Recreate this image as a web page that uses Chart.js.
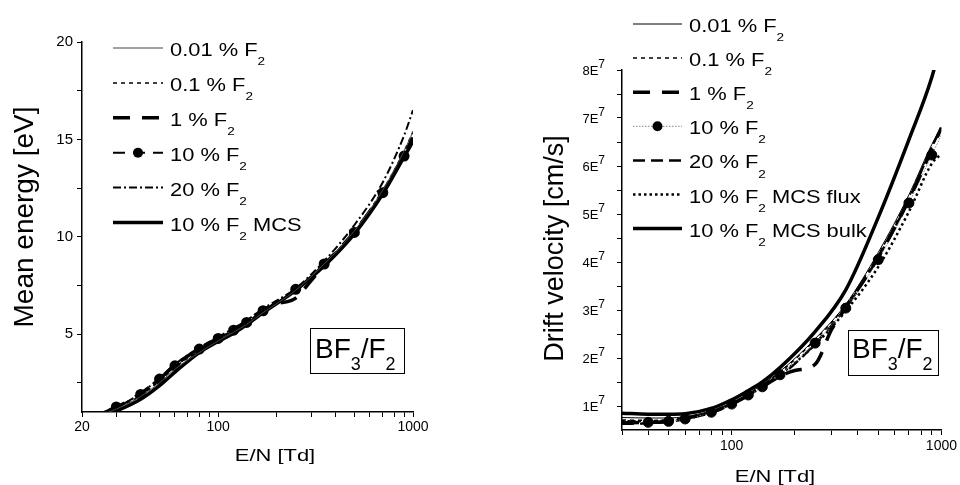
<!DOCTYPE html>
<html>
<head>
<meta charset="utf-8">
<script src="https://cdn.jsdelivr.net/npm/chart.js@4.4.0/dist/chart.umd.min.js"></script>
<style>
  html, body { margin: 0; padding: 0; background: #fff; }
  .wrap { display: flex; width: 960px; height: 485px; }
  canvas { display: block; }
</style>
</head>
<body>
<div class="wrap">
  <canvas id="energyChart" width="480" height="485"></canvas>
  <canvas id="driftChart" width="480" height="485"></canvas>
</div>
<script>
// ---- left panel: mean energy [eV] vs E/N [Td] ----
const energyEN = [20, 30, 40, 50, 60, 80, 100, 120, 140, 170, 250, 350, 500, 700, 900, 1000];
const energy001 = [0.5, 1.15, 1.8, 2.5, 3.2, 4.05, 4.65, 5.1, 5.5, 6.1, 7.25, 8.6, 10.3, 12.4, 14.4, 15.4];
const energy01 = [0.55, 1.2, 1.85, 2.6, 3.3, 4.15, 4.75, 5.2, 5.6, 6.15, 7.25, 8.6, 10.3, 12.4, 14.4, 15.4];
const energy1EN = [20, 30, 40, 50, 60, 80, 100, 120, 140, 170, 200, 250, 300, 350, 500, 700, 900, 1000];
const energy1 = [0.6, 1.25, 1.95, 2.7, 3.4, 4.25, 4.8, 5.25, 5.65, 6.25, 6.55, 6.85, 7.75, 8.55, 10.25, 12.3, 14.2, 15.1];
const energy10 = [0.6, 1.26, 1.9, 2.69, 3.37, 4.23, 4.78, 5.2, 5.6, 6.2, 7.3, 8.6, 10.22, 12.26, 14.14, 15.0];
const energy20 = [0.6, 1.25, 1.95, 2.75, 3.45, 4.3, 4.85, 5.3, 5.7, 6.3, 7.35, 8.75, 10.6, 12.8, 15.2, 16.5];
const energyMCS = [0.45, 1.05, 1.65, 2.35, 3.05, 4.05, 4.62, 5.05, 5.48, 6.1, 7.25, 8.5, 10.15, 12.2, 14.1, 14.9];
const energyXTicks = [20, 30, 40, 50, 60, 70, 80, 90, 100, 200, 300, 400, 500, 600, 700, 800, 900, 1000];
const energyXLabels = [20, 100, 1000];
const energyYTicks = [2.5, 5, 7.5, 10, 12.5, 15, 17.5, 20];
const energyYLabels = [5, 10, 15, 20];

// ---- right panel: drift velocity [cm/s] vs E/N [Td] ----
const driftEN = [30, 40, 50, 60, 80, 100, 120, 140, 170, 250, 350, 500, 700, 900, 1000];
const drift001 = [7.6e6, 7.5e6, 7.5e6, 7.8e6, 9.0e6, 1.07e7, 1.26e7, 1.45e7, 1.72e7, 2.40e7, 3.12e7, 4.20e7, 5.40e7, 6.45e7, 6.80e7];
const drift01 = [7.1e6, 7.0e6, 7.1e6, 7.6e6, 8.8e6, 1.05e7, 1.24e7, 1.43e7, 1.70e7, 2.38e7, 3.10e7, 4.15e7, 5.35e7, 6.40e7, 6.75e7];
const drift1EN = [30, 40, 50, 60, 80, 100, 120, 140, 170, 200, 250, 300, 350, 500, 700, 900, 1000];
const drift1 = [6.5e6, 6.6e6, 6.8e6, 7.4e6, 8.7e6, 1.04e7, 1.22e7, 1.40e7, 1.62e7, 1.74e7, 1.87e7, 2.6e7, 3.05e7, 4.10e7, 5.30e7, 6.35e7, 6.80e7];
const drift10 = [6.6e6, 6.6e6, 6.8e6, 7.3e6, 8.7e6, 1.04e7, 1.23e7, 1.40e7, 1.65e7, 2.31e7, 3.04e7, 4.05e7, 5.23e7, 6.23e7, 6.65e7];
const drift20 = [6.3e6, 6.4e6, 6.7e6, 7.3e6, 8.6e6, 1.03e7, 1.22e7, 1.40e7, 1.62e7, 2.30e7, 3.05e7, 4.10e7, 5.30e7, 6.40e7, 6.80e7];
const driftFlux = [6.8e6, 6.8e6, 7.0e6, 7.5e6, 8.8e6, 1.04e7, 1.22e7, 1.40e7, 1.65e7, 2.28e7, 2.98e7, 3.90e7, 5.05e7, 6.05e7, 6.25e7];
const driftBulk = [8.5e6, 8.3e6, 8.3e6, 8.4e6, 9.5e6, 1.13e7, 1.32e7, 1.50e7, 1.80e7, 2.55e7, 3.42e7, 4.93e7, 6.55e7, 7.85e7, 8.6e7];
const driftXTicks = [30, 40, 50, 60, 70, 80, 90, 100, 200, 300, 400, 500, 600, 700, 800, 900, 1000];
const driftXLabels = [100, 1000];
const driftYTicks = [1e7, 1.5e7, 2e7, 2.5e7, 3e7, 3.5e7, 4e7, 4.5e7, 5e7, 5.5e7, 6e7, 6.5e7, 7e7, 7.5e7, 8e7];
const driftYLabelValues = [1e7, 2e7, 3e7, 4e7, 5e7, 6e7, 7e7, 8e7];
const driftYLabels = ['1E⁷', '2E⁷', '3E⁷', '4E⁷', '5E⁷', '6E⁷', '7E⁷', '8E⁷'];

const FONT = '"Liberation Sans", Arial, sans-serif';
const SUB = { '₂': '2', '₃': '3' };
const SUP = { '⁷': '7' };

// text with sub/superscripts drawn as real smaller digits
function drawRich(ctx, str, x, y, f, align) {
  const parts = [];
  for (const ch of str) {
    const kind = SUB[ch] ? 'sub' : SUP[ch] ? 'sup' : 'n';
    const t = SUB[ch] || SUP[ch] || ch;
    const last = parts[parts.length - 1];
    if (last && last.kind === kind) last.t += t; else parts.push({ t, kind });
  }
  const sizeOf = k => k === 'sub' ? f.size * (f.sub || 0.62) : k === 'sup' ? f.size * (f.sup || 0.62) : f.size;
  let w = 0;
  parts.forEach(p => { ctx.font = `${sizeOf(p.kind)}px ${FONT}`; p.w = ctx.measureText(p.t).width; w += p.w; });
  ctx.save();
  ctx.translate(x, y);
  if (f.rot) ctx.rotate(f.rot);
  ctx.scale(f.sx || 1, 1);
  ctx.textAlign = 'left';
  ctx.textBaseline = 'alphabetic';
  let cx = align === 'center' ? -w / 2 : align === 'right' ? -w : 0;
  parts.forEach(p => {
    ctx.font = `${sizeOf(p.kind)}px ${FONT}`;
    const dy = p.kind === 'sub' ? f.size * (f.subDy || 0.5) : p.kind === 'sup' ? f.size * (f.supDy || -0.45) : 0;
    ctx.fillText(p.t, cx, dy);
    cx += p.w;
  });
  ctx.restore();
}

const decor = {
  id: 'decor',
  afterDraw(chart, args, o) {
    const ctx = chart.ctx;
    ctx.save();
    ctx.fillStyle = '#000';
    o.titles.forEach(t => drawRich(ctx, t.text, t.x, t.y, t.font, 'center'));

    const lg = o.legend;
    chart.data.datasets.forEach((ds, i) => {
      const y = lg.y + i * lg.step;
      ctx.save();
      ctx.strokeStyle = ds.borderColor;
      ctx.lineWidth = ds.borderWidth;
      ctx.setLineDash(ds.borderDash || []);
      ctx.beginPath();
      ctx.moveTo(lg.x0, y);
      ctx.lineTo(lg.x1, y);
      ctx.stroke();
      ctx.restore();
      if (ds.legendMarker) {
        ctx.beginPath();
        ctx.arc((lg.x0 + lg.x1) / 2, y, ds.legendMarker, 0, Math.PI * 2);
        ctx.fill();
      }
      drawRich(ctx, ds.label, lg.tx, y + lg.dy, lg.font, 'left');
    });

    const b = o.box;
    ctx.strokeStyle = '#000';
    ctx.lineWidth = 1;
    ctx.strokeRect(b.x + 0.5, b.y + 0.5, b.w, b.h);
    drawRich(ctx, b.text, b.tx, b.ty, b.font, 'left');

    if (o.yLabels) {
      const ys = chart.scales.y;
      o.yLabels.values.forEach((v, i) => {
        const py = ys.getPixelForValue(v);
        drawRich(ctx, o.yLabels.labels[i], o.yLabels.x, py + o.yLabels.font.size * 0.36, o.yLabels.font, 'right');
      });
    }
    ctx.restore();
  }
};

function pts(xs, ys) {
  return xs.map((x, i) => ({ x, y: ys[i] }));
}

function series(label, xs, ys, style) {
  return Object.assign({
    label,
    data: pts(xs, ys),
    borderColor: '#000',
    backgroundColor: '#000',
    borderWidth: 1,
    pointRadius: 0,
    fill: false,
    cubicInterpolationMode: 'monotone'
  }, style);
}

function axisStyle() {
  return {
    border: { display: true, color: '#000', width: 1.5 },
    grid: { drawOnChartArea: false, drawTicks: true, tickLength: 5, color: '#000', tickWidth: 1 }
  };
}

const legendFont = { size: 17.5, sx: 1.25, sub: 0.62, subDy: 0.52 };
const boxFont = { size: 28, sub: 0.64, subDy: 0.42 };

const energyMarkers = energyEN.map((x, i) => (i === 0 || i === energyEN.length - 1) ? 0 : 4.5);

new Chart(document.getElementById('energyChart'), {
  type: 'line',
  data: {
    datasets: [
      series('0.01 % F₂', energyEN, energy001, { borderWidth: 1, borderColor: '#444' }),
      series('0.1 % F₂', energyEN, energy01, { borderWidth: 1.5, borderDash: [4, 4] }),
      series('1 % F₂', energy1EN, energy1, { borderWidth: 3.5, borderDash: [17, 12] }),
      series('10 % F₂', energyEN, energy10, { borderWidth: 2, borderDash: [12, 8], pointRadius: energyMarkers, pointBackgroundColor: '#000', legendMarker: 5 }),
      series('20 % F₂', energyEN, energy20, { borderWidth: 2, borderDash: [8, 3, 2, 3] }),
      series('10 % F₂ MCS', energyEN, energyMCS, { borderWidth: 3.5 })
    ]
  },
  options: {
    responsive: false,
    animation: false,
    events: [],
    layout: { padding: { left: 0, right: 67, top: 42, bottom: 0 } },
    scales: {
      x: Object.assign(axisStyle(), {
        type: 'logarithmic', min: 20, max: 1000,
        afterBuildTicks: s => { s.ticks = energyXTicks.map(v => ({ value: v })); },
        afterFit: s => { s.height = 73; },
        ticks: {
          autoSkip: false, maxRotation: 0, padding: 2, color: '#000',
          font: { family: FONT, size: 14 },
          callback: v => energyXLabels.includes(v) ? String(v) : ''
        }
      }),
      y: Object.assign(axisStyle(), {
        type: 'linear', min: 1, max: 20,
        afterBuildTicks: s => { s.ticks = energyYTicks.map(v => ({ value: v })); },
        afterFit: s => { s.width = 82; },
        ticks: {
          autoSkip: false, padding: 4, color: '#000',
          font: { family: FONT, size: 15 },
          callback: v => energyYLabels.includes(v) ? String(v) : ''
        }
      })
    },
    plugins: {
      legend: { display: false },
      tooltip: { enabled: false },
      decor: {
        titles: [
          { text: 'E/N [Td]', x: 275, y: 461, font: { size: 16, sx: 1.37 } },
          { text: 'Mean energy [eV]', x: 33, y: 217, font: { size: 28, rot: -Math.PI / 2 } }
        ],
        legend: { x0: 113, x1: 163, tx: 170, y: 48, step: 34.9, dy: 8, font: legendFont },
        box: { x: 310, y: 328, w: 94, h: 45, tx: 315, ty: 358, text: 'BF₃/F₂', font: boxFont }
      }
    }
  },
  plugins: [decor]
});

const driftMarkers = driftEN.map((x, i) => (i === 0 || i === driftEN.length - 1) ? 0 : 5);

new Chart(document.getElementById('driftChart'), {
  type: 'line',
  data: {
    datasets: [
      series('0.01 % F₂', driftEN, drift001, { borderWidth: 1 }),
      series('0.1 % F₂', driftEN, drift01, { borderWidth: 1.5, borderDash: [4, 4] }),
      series('1 % F₂', drift1EN, drift1, { borderWidth: 3.5, borderDash: [17, 12] }),
      series('10 % F₂', driftEN, drift10, { borderWidth: 1, borderColor: '#888', borderDash: [1.5, 1.5], pointRadius: driftMarkers, pointBackgroundColor: '#000', pointBorderColor: '#000', legendMarker: 5 }),
      series('20 % F₂', driftEN, drift20, { borderWidth: 2.5, borderDash: [12, 6] }),
      series('10 % F₂ MCS flux', driftEN, driftFlux, { borderWidth: 2.5, borderDash: [2.5, 3] }),
      series('10 % F₂ MCS bulk', driftEN, driftBulk, { borderWidth: 3.5 })
    ]
  },
  options: {
    responsive: false,
    animation: false,
    events: [],
    layout: { padding: { left: 0, right: 16, top: 70, bottom: 0 } },
    scales: {
      x: Object.assign(axisStyle(), {
        type: 'logarithmic', min: 30, max: 1000,
        afterBuildTicks: s => { s.ticks = driftXTicks.map(v => ({ value: v })); },
        afterFit: s => { s.height = 55; },
        ticks: {
          autoSkip: false, maxRotation: 0, padding: 3, color: '#000',
          font: { family: FONT, size: 14 },
          callback: v => driftXLabels.includes(v) ? String(v) : ''
        }
      }),
      y: Object.assign(axisStyle(), {
        type: 'linear', min: 5e6, max: 8e7,
        afterBuildTicks: s => { s.ticks = driftYTicks.map(v => ({ value: v })); },
        afterFit: s => { s.width = 142; },
        ticks: { autoSkip: false, callback: () => '' }
      })
    },
    plugins: {
      legend: { display: false },
      tooltip: { enabled: false },
      decor: {
        titles: [
          { text: 'E/N [Td]', x: 295, y: 482, font: { size: 16, sx: 1.37 } },
          { text: 'Drift velocity [cm/s]', x: 82.5, y: 248.5, font: { size: 27, rot: -Math.PI / 2 } }
        ],
        legend: { x0: 153, x1: 202, tx: 209, y: 24, step: 34.1, dy: 8, font: legendFont },
        box: { x: 368, y: 330, w: 90, h: 45, tx: 372, ty: 358, text: 'BF₃/F₂', font: boxFont },
        yLabels: { values: driftYLabelValues, labels: driftYLabels, x: 125, font: { size: 13, sup: 0.92, supDy: -0.5 } }
      }
    }
  },
  plugins: [decor]
});
</script>
</body>
</html>
